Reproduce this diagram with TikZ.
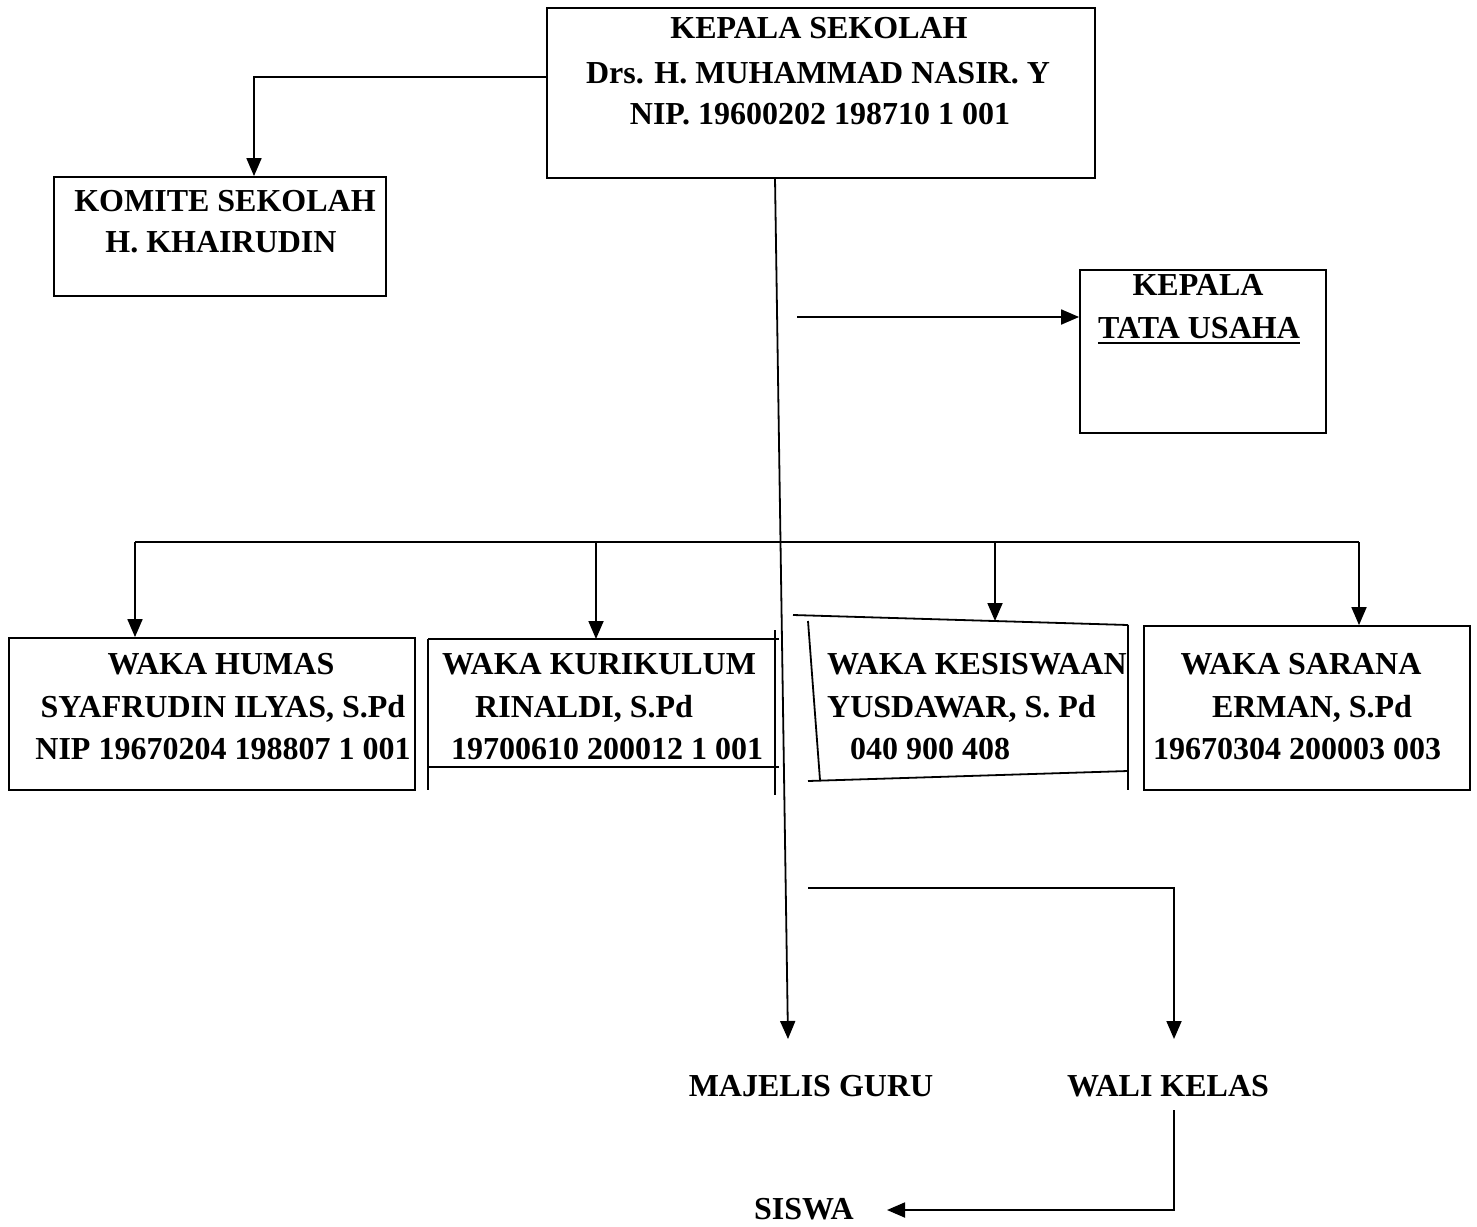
\documentclass[tikz,border=0pt]{standalone}
\usepackage{fontspec}
\setmainfont{Liberation Serif}
\usetikzlibrary{arrows.meta}
\begin{document}
\begin{tikzpicture}[x=1pt,y=-1pt,
  lw/.style={line width=1.8pt},
  box/.style={draw, line width=1.8pt, rectangle, inner sep=0pt},
  lbl/.style={font=\fontsize{32}{38}\selectfont\bfseries, inner sep=0pt, anchor=base},
  lbll/.style={lbl, anchor=base west},
  arr/.style={lw, -{Triangle[width=15pt,length=18pt]}}]
\useasboundingbox (0,0) rectangle (1477,1226);

% ---- boxes ----
\node[box, minimum width=548pt, minimum height=170pt] (ks) at (821,93) {};
\node[box, minimum width=332pt, minimum height=119pt] (km) at (220,236.5) {};
\node[box, minimum width=246pt, minimum height=163pt] (tu) at (1203,351.5) {};
\node[box, minimum width=406pt, minimum height=152pt] (hum) at (212,714) {};
\node[box, minimum width=326pt, minimum height=164pt] (sar) at (1307,708) {};

% WAKA KURIKULUM (open lines)
\coordinate (kuTL) at (428,639);
\coordinate (kuTR) at (779,639);
\coordinate (kuBL) at (428,767);
\coordinate (kuBR) at (779,767);
\draw[lw] (kuTL) -- (kuTR);
\draw[lw] (kuBL) -- (kuBR);
\draw[lw] (kuTL) -- (428,790);
\draw[lw] (775,630) -- (775,795);

% WAKA KESISWAAN (skewed lines)
\coordinate (ksTL) at (793,615);
\coordinate (ksTR) at (1128,625);
\coordinate (ksBL) at (808,781);
\coordinate (ksBR) at (1128,771);
\draw[lw] (ksTL) -- (ksTR);
\draw[lw] (ksBL) -- (ksBR);
\draw[lw] (808,621) -- (820,780);
\draw[lw] (ksTR) -- (1128,790);

% ---- texts ----
\node[lbl] (t1) at (819,38) {KEPALA SEKOLAH};
\node[lbl] (t2) at (818,83) {Drs. H. MUHAMMAD NASIR. Y};
\node[lbl] (t3) at (820,124) {NIP. 19600202 198710 1 001};

\node[lbl] (k1) at (225,211) {KOMITE SEKOLAH};
\node[lbl] (k2) at (221,252) {H. KHAIRUDIN};

\node[lbl] (tu1) at (1198,295) {KEPALA};
\node[lbl] (tu2) at (1199,338) {TATA USAHA};
\draw[line width=2.2pt] ([yshift=-5pt]tu2.base west) -- ([yshift=-5pt]tu2.base east);

\node[lbl] (h1) at (221,674) {WAKA HUMAS};
\node[lbl] (h2) at (223,717) {SYAFRUDIN ILYAS, S.Pd};
\node[lbl] (h3) at (223,759) {NIP 19670204 198807 1 001};

\node[lbll] (c1) at (442,674) {WAKA KURIKULUM};
\node[lbll] (c2) at (475,717) {RINALDI, S.Pd};
\node[lbll] (c3) at (451,759) {19700610 200012 1 001};

\node[lbll] (s1) at (827,674) {WAKA KESISWAAN};
\node[lbll] (s2) at (827,717) {YUSDAWAR, S. Pd};
\node[lbll] (s3) at (850,759) {040 900 408};

\node[lbl] (r1) at (1301,674) {WAKA SARANA};
\node[lbl] (r2) at (1312,717) {ERMAN, S.Pd};
\node[lbl] (r3) at (1297,759) {19670304 200003 003};

\node[lbl] (mg) at (811,1096) {MAJELIS GURU};
\node[lbl] (wk) at (1168,1096) {WALI KELAS};
\node[lbl] (sw) at (804,1219) {SISWA};

% ---- connectors ----
\coordinate (y77) at (0,77);
\draw[arr] (ks.west |- y77) -| (km.north -| 254,0);

\coordinate (ksb) at (775,178);
\coordinate (mgin) at (788,1039);
\draw[arr] (ksb) -- (mgin);

\coordinate (tuS) at (797,317);
\draw[arr] (tuS) -- (tu.west |- tuS);

\coordinate (b1) at (135,542);
\coordinate (b2) at (596,542);
\coordinate (b3) at (995,542);
\coordinate (b4) at (1359,542);
\draw[lw] (b1) -- (b4);
\draw[arr] (b1) -- (b1 |- hum.north);
\draw[arr] (b2) -- (b2 |- kuTL);
\draw[arr] (b3) -- (995,621);
\draw[arr] (b4) -- (b4 |- sar.north);

\coordinate (wS) at (808,888);
\coordinate (wkin) at (1174,1039);
\draw[arr] (wS) -| (wkin);

\coordinate (wkout) at (1174,1110);
\coordinate (swin) at (887,1210);
\draw[arr] (wkout) |- (swin);
\end{tikzpicture}
\end{document}
